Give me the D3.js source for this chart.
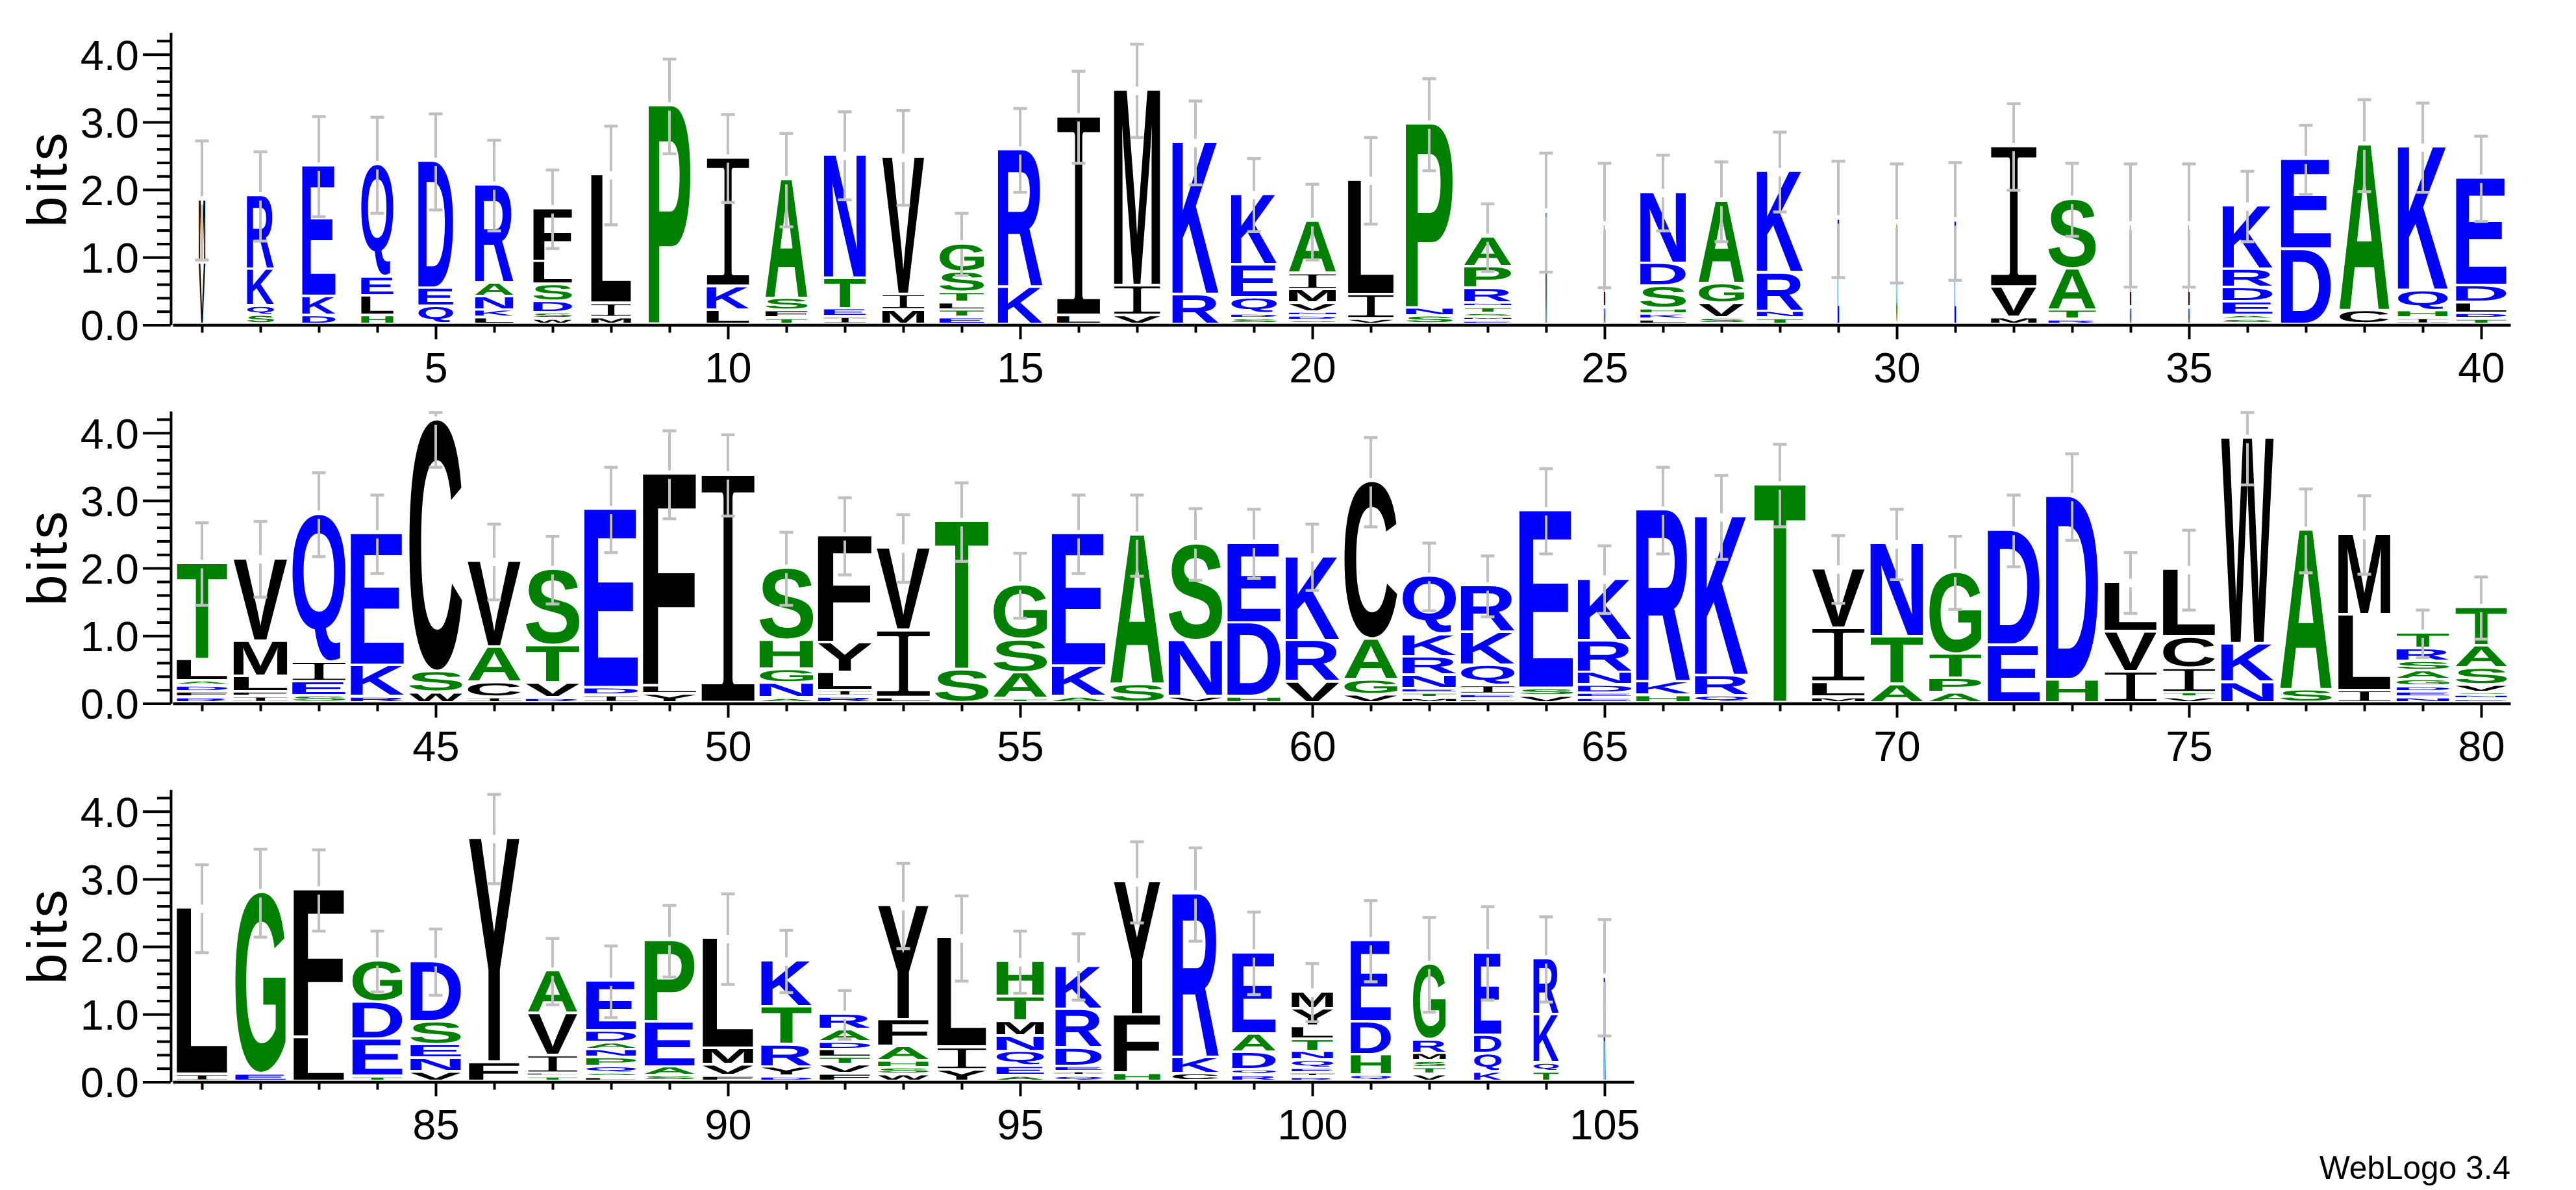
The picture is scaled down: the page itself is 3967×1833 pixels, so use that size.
<!DOCTYPE html>
<html><head><meta charset="utf-8">
<script src="https://cdn.jsdelivr.net/npm/d3@7"></script>
<style>html,body{margin:0;padding:0;background:#fff}svg{display:block}</style>
</head><body><svg id="logo"></svg>
<script>
// Letters of each stack from bottom to top, positions 1..105
const stackLetters = ["VM","SQKR","DKE","HLEQ","QED","LKNAR","WSDSLF","MIL","P","LKI","TFSA","IETN","MIV","ETLTSG","KR","LI","VIM","RK","SDQEK","SDNVMIA","VIL","SNP","EMSTNRPA","M","ML","LKHSDN","SVGA","TNRK","E","G","E","MVI","RTAS","ML","ML","SAEDRK","DE","CA","IHQK","TDLDE",
"RFDALT","IFLMV","SEIQ","RKE","WSC","ICAV","RVTS","IDE","YLF","I","ANGHS","RILYF","LIV","ST","TASG","AKE","SA","VNS","HDE","VRK","VGAC","MTENRKQ","LEIQKR","VSE","EEDNRK","HKR","QRK","T","MLIV","ATN","APTG","ED","HD","IVL","VTICL","NKW","SA","ILM","NEDGASRT","ENSVSAT",
"IL","EG","LF","TEDG","VNESD","FY","TLIVA","LSQPNADE","SAEP","FVML","DYRTK","FVTLDAR","WSHAFY","YIL","AEQNMTH","QIEDRK","HFY","CKR","RQDAE","RIEQNTLYM","QHDE","VTSMRG","KQDE","TQKR","R"];
const stackBits = [[.91,.93],[.13,.14,.54,1.09],[.13,.28,1.93],[.13,.29,.28,1.66],[.26,.27,1.88],[.10,.11,.20,.20,1.45],[.08,.09,.17,.25,.34,.78],[.10,.21,1.90],[3.23],[.21,.35,1.90],[.09,.11,.18,1.76],[.11,.12,.45,1.82],[.21,.23,2.03],[.10,.11,.11,.15,.30,.42],[.55,2.03],[.13,2.94],[.13,.44,2.89],[.44,2.25],[.08,.07,.24,.49,1.04],[.05,.07,.06,.13,.20,.24,.77],[.08,.36,1.69],[.12,.12,2.72],[.05,.05,.06,.09,.06,.22,.32,.44],[1.66],[.25,1.22],[.07,.08,.08,.33,.34,1.05],[.09,.22,.29,1.22],[.09,.10,.57,1.50],[1.56],[1.50],[1.53],[.10,.45,2.08],[.07,.14,.61,1.03],[.25,1.22],[.25,1.22],[.07,.06,.20,.21,.27,.94],[1.11,1.33],[.20,2.45],[.09,.11,.30,2.12],[.08,.08,.16,.25,1.59],
[.08,.08,.09,.07,.32,1.42],[.09,.07,.23,.52,1.22],[.10,.21,.29,2.19],[.09,.46,1.95],[.15,.31,3.72],[.08,.22,.52,1.27],[.07,.22,.55,1.13],[.11,.11,2.64],[.13,.12,3.13],[3.37],[.07,.22,.20,.43,1.07],[.09,.09,.27,.44,1.58],[.08,.99,1.22],[.49,2.19],[.06,.38,.49,.81],[.09,.45,1.96],[.27,2.21],[.09,.83,1.43],[.09,1.09,1.18],[.31,.61,1.24],[.12,.22,.60,2.33],[.07,.07,.07,.20,.27,.33,.86],[.05,.07,.13,.30,.49,.69],[.10,.11,2.63],[.07,.07,.12,.19,.47,.91],[.11,.20,2.54],[.10,.30,2.35],[3.22],[.08,.22,.80,.88],[.27,.70,1.38],[.15,.21,.36,1.21],[.85,1.70],[.34,2.71],[.46,.59,.73],[.08,.07,.36,.46,1.00],[.30,.57,3.04],[.19,2.36],[.18,1.12,1.19],[.08,.08,.08,.10,.13,.14,.19,.23],[.05,.06,.04,.11,.25,.33,.57],
[.10,2.46],[.11,2.68],[.65,2.18],[.07,.55,.55,.61],[.14,.20,.20,.34,.89],[.28,3.31],[.07,.05,.26,.62,.63],[.06,.06,.10,.13,.12,.10,.17,.74],[.08,.13,.67,1.20],[.08,.16,.24,1.63],[.07,.14,.33,.56,.68],[.11,.13,.11,.12,.11,.18,.23],[.10,.10,.10,.21,.40,1.69],[.17,.33,1.62],[.08,.14,.22,.23,.22,.36,.52],[.08,.06,.08,.27,.57,.64],[.12,.86,1.97],[.11,.24,2.42],[.09,.08,.26,.27,1.20],[.06,.06,.07,.12,.13,.18,.19,.26,.25],[.09,.30,.49,1.20],[.10,.10,.10,.11,.20,1.12],[.14,.27,.27,1.22],[.14,.13,.71,.83],[1.54]];
const errorBits = [.88,.66,.74,.71,.71,.67,.58,.73,.70,.65,.69,.65,.70,.46,.62,.68,.69,.62,.54,.56,.64,.68,.50,.88,.92,.56,.59,.59,.86,.88,.87,.64,.54,.91,.91,.52,.51,.68,.66,.63,
.61,.56,.62,.58,.69,.56,.50,.63,.65,.60,.54,.57,.50,.58,.48,.58,.60,.53,.51,.49,.66,.50,.45,.63,.50,.64,.62,.61,.50,.52,.54,.53,.64,.45,.59,.68,.62,.58,.35,.46,
.65,.65,.60,.45,.49,.66,.49,.53,.53,.67,.46,.36,.63,.63,.46,.49,.60,.69,.61,.43,.60,.70,.69,.63,.86];
// Fraction of the full column width used by each stack
const columnWidth = [.12,.50,.62,.60,.65,.71,.72,.74,.78,.79,.78,.78,.78,.83,.83,.80,.86,.86,.85,.875,.85,.875,.875,.025,.025,.85,.85,.86,.03,.025,.03,.85,.885,.025,.025,.93,.93,.93,.93,.94,
.94,1,.99,.99,.99,.99,1,1,.99,.99,1,1,.99,1,1,1,1,1,.99,1,.99,1,1,1,1,1,.99,.96,.98,.98,.97,.97,.97,.97,.97,.98,.96,.97,.98,.96,
.94,.94,.94,.93,.94,.94,.92,.93,.93,.94,.94,.94,.94,.91,.885,.865,.865,.865,.81,.77,.75,.61,.51,.47,.035];
const blueLetters = "DEKNQR", greenLetters = "AGHPST";
const rowRanges = [[1,40],[41,80],[81,105]];
const yMajor = [0,1,2,3,4];
const yMinor = [.2,.4,.6,.8,1.2,1.4,1.6,1.8,2.2,2.4,2.6,2.8,3.2,3.4,3.6,3.8,4.2];
const yMax = 4.32, errCeil = 4.3, yLabel = "bits", credit = "WebLogo 3.4";

const W = 3967, H = 1833, X0 = 266, STEP = 90, BASE0 = 500.5, ROWSTEP = 583, BIT = 104.2;
const FULL = 82, GAP = 4, I_THIN = 12, FS = 400;
const svg = d3.select("#logo").attr("width",W).attr("height",H).attr("viewBox",`0 0 ${W} ${H}`)
  .style("font-family","'Liberation Sans',Arial,sans-serif");
svg.append("rect").attr("width",W).attr("height",H).attr("fill","#fff");

const colorOf = c => blueLetters.includes(c) ? "#0000ff" : greenLetters.includes(c) ? "#008000" : "#000000";
const cv = document.createElement("canvas"); cv.width = 900; cv.height = 900;
const ctx = cv.getContext("2d",{willReadFrequently:true});
const glyphFont = c => c==="I" ? {fam:"'Liberation Mono'",wt:"normal",thin:I_THIN} : {fam:"'Liberation Sans'",wt:"bold",thin:0};
const metricCache = {};
// True ink box of a glyph, found by scanning its pixels
function ink(c){
  if(metricCache[c]) return metricCache[c];
  const f = glyphFont(c), ox = 200, oy = 600;
  ctx.clearRect(0,0,900,900);
  ctx.font = `${f.wt} ${FS}px ${f.fam}`; ctx.fillStyle = "#000"; ctx.textBaseline = "alphabetic";
  ctx.fillText(c,ox,oy);
  const px = ctx.getImageData(0,0,900,900).data;
  let x0=900,x1=0,y0=900,y1=0;
  for(let j=0;j<900;j++) for(let i=0;i<900;i++) if(px[(j*900+i)*4+3]>127){
    if(i<x0)x0=i; if(i+1>x1)x1=i+1; if(j<y0)y0=j; if(j+1>y1)y1=j+1;
  }
  const e = f.thin/2;
  return metricCache[c] = {l:x0-ox+e, r:x1-ox-e, a:oy-y0-e, d:y1-oy-e};
}

rowRanges.forEach(([first,last],ri)=>{
  const base = BASE0 + ri*ROWSTEP;
  const g = svg.append("g");
  const x = d3.scaleLinear().domain([first-.5,last+.5]).range([X0, X0+(last-first+1)*STEP]);
  const y = d3.scaleLinear().domain([0,yMax]).range([base, base-yMax*BIT]);
  const positions = d3.range(first,last+1);

  // stacks: the thin-stemmed I goes first so its trim never touches a neighbour
  positions.forEach(p=>{
    const letters = stackLetters[p-1].split(""), bits = stackBits[p-1];
    const w = FULL*columnWidth[p-1];
    const placed = letters.map((c,i)=>({c,from:d3.sum(bits.slice(0,i)),to:d3.sum(bits.slice(0,i+1))}));
    placed.sort((a,b)=>(b.c==="I")-(a.c==="I"));
    placed.forEach(({c,from,to})=>{
      const bottom = y(from), top = y(to);
      const h = Math.max(bottom-top-GAP, .8), m = ink(c), f = glyphFont(c);
      const sx = w/(m.r-m.l), sy = h/(m.a+m.d);
      const t = g.append("text").text(c)
        .attr("font-family",f.fam).attr("font-weight",f.wt).attr("font-size",FS)
        .attr("text-rendering","geometricPrecision")
        .attr("fill",colorOf(c))
        .attr("transform",`translate(${x(p)-w/2},${top+h}) scale(${sx},${sy}) translate(${-m.l},${-m.d})`);
      if(f.thin && w>10) t.attr("stroke","#fff").attr("stroke-width",f.thin).attr("stroke-linejoin","round");
    });
  });

  // error bars
  positions.forEach(p=>{
    const t = d3.sum(stackBits[p-1]), e = errorBits[p-1], cx = x(p);
    const hi = Math.min(t+e,errCeil), lo = t-e;
    const eg = g.append("g").attr("stroke","#c0c0c0").attr("fill","none");
    eg.append("line").attr("x1",cx).attr("x2",cx).attr("y1",y(hi)).attr("y2",y(t)-6.5).attr("stroke-width",4);
    eg.append("line").attr("x1",cx).attr("x2",cx).attr("y1",y(t)+6.5).attr("y2",y(lo)).attr("stroke-width",4);
    [hi,lo].forEach(v=>eg.append("line").attr("x1",cx-10.5).attr("x2",cx+10.5).attr("y1",y(v)).attr("y2",y(v)).attr("stroke-width",4.5));
  });

  // y axis
  const ya = g.append("g").attr("transform",`translate(${X0-3},0)`);
  ya.call(d3.axisLeft(y).tickValues(yMajor).tickSize(43).tickSizeOuter(0).tickPadding(6).tickFormat(d3.format(".1f")));
  ya.append("g").call(d3.axisLeft(y).tickValues(yMinor).tickSize(21).tickSizeOuter(0).tickFormat(""))
    .select(".domain").remove();
  ya.selectAll("path.domain").attr("stroke","#000").attr("stroke-width",4);
  ya.selectAll("line").attr("stroke","#000").attr("stroke-width",4);
  ya.selectAll("text").attr("fill","#000").attr("font-size",65).attr("font-family","'Liberation Sans'").attr("dy",".36em");

  // x axis
  const xa = g.append("g").attr("transform",`translate(0,${base})`);
  const majors = positions.filter(p=>p%5===0), minors = positions.filter(p=>p%5!==0);
  xa.call(d3.axisBottom(x).tickValues(majors).tickSize(22).tickSizeOuter(0).tickFormat(d3.format("d")));
  xa.append("g").call(d3.axisBottom(x).tickValues(minors).tickSize(12).tickSizeOuter(0).tickFormat(""))
    .select(".domain").remove();
  xa.selectAll("path.domain").attr("stroke","#000").attr("stroke-width",4.5);
  xa.selectAll("line").attr("stroke","#000").attr("stroke-width",4);
  xa.selectAll("text").attr("fill","#000").attr("font-size",65).attr("font-family","'Liberation Sans'").attr("y",88).attr("dy",0);

  // bits label
  g.append("text").text(yLabel).attr("font-size",86).attr("letter-spacing",4).attr("text-anchor","middle")
    .attr("transform",`translate(102,${y(yMax/2)}) rotate(-90)`);
});
svg.append("text").text(credit).attr("x",3866).attr("y",1816).attr("text-anchor","end").attr("font-size",49.6).attr("fill","#000");
</script></body></html>
